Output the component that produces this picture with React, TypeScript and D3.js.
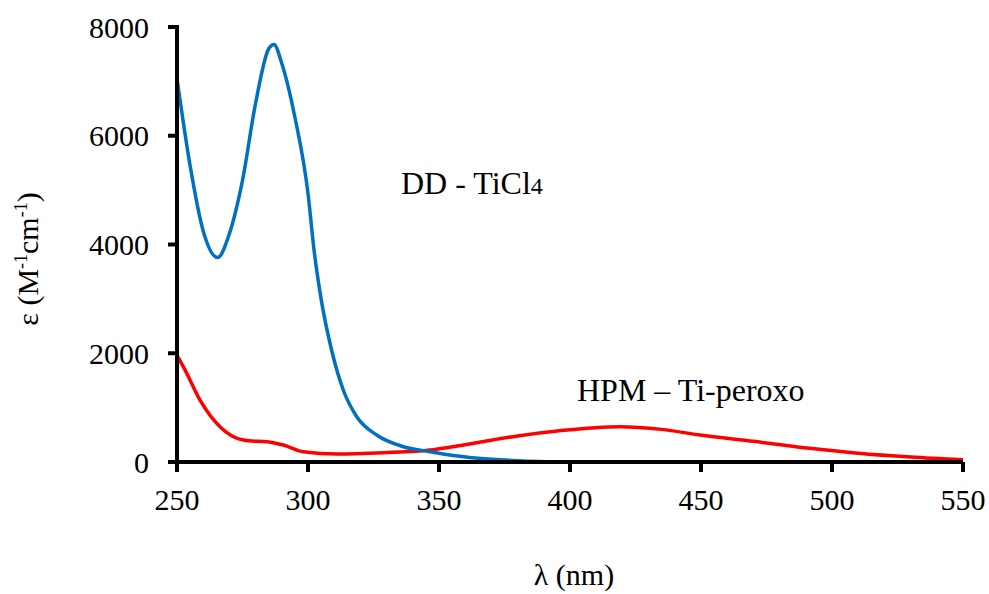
import React from "react";
import * as d3 from "d3";

const xTicks = [250, 300, 350, 400, 450, 500, 550];
const yTicks = [0, 2000, 4000, 6000, 8000];

const blueWl = [250, 255, 260, 265.5, 270, 275, 280, 285, 287, 290, 295, 300, 302.3, 305, 309, 313.5, 318.6, 326.2, 336.4, 346.6, 354, 365, 380, 400];
const blueEps = [7050, 5450, 4250, 3760, 4200, 5180, 6600, 7600, 7680, 7330, 6340, 4940, 3900, 3000, 2060, 1320, 833, 496, 281, 190, 129, 70, 25, 0];

const redWl = [250, 253, 258.8, 266.4, 275.3, 286.8, 290.6, 298.2, 311, 328.8, 346.6, 354, 365, 380, 396, 419, 435, 449.6, 470, 491.6, 510, 530, 550];
const redEps = [1960, 1700, 1140, 650, 404, 355, 312, 190, 147, 171, 220, 270, 360, 480, 575, 650, 600, 496, 380, 251, 160, 90, 40];

const FONT = '"Liberation Serif", "Times New Roman", "DejaVu Serif", serif';

export default function App() {
  const W = 989, H = 594;
  const x = d3.scaleLinear().domain([250, 550]).range([177, 963]);
  const y = d3.scaleLinear().domain([0, 8000]).range([462, 27]);
  const line = d3.line<[number, number]>().x(d => x(d[0])).y(d => y(d[1])).curve(d3.curveMonotoneX);
  const blue = line(blueWl.map((w, i) => [w, blueEps[i]] as [number, number])) || "";
  const red = line(redWl.map((w, i) => [w, redEps[i]] as [number, number])) || "";
  const ts = { fontFamily: FONT, fill: "#000" } as React.CSSProperties;
  return (
    <svg width={W} height={H} style={{ position: "absolute", left: 0, top: 0 }}>
      <rect width={W} height={H} fill="#fff" />
      <path d={red} fill="none" stroke="#FF0000" strokeWidth={3.5} strokeLinejoin="round" />
      <path d={blue} fill="none" stroke="#0070C0" strokeWidth={3.5} strokeLinejoin="round" />
      <line x1={x(250)} x2={x(250)} y1={y(8000) - 2} y2={y(0) + 2} stroke="#000" strokeWidth={4} />
      <line x1={x(250) - 2} x2={x(550)} y1={y(0)} y2={y(0)} stroke="#000" strokeWidth={4} />
      {yTicks.map(t => (
        <g key={"y" + t}>
          <line x1={x(250) - 9} x2={x(250)} y1={y(t)} y2={y(t)} stroke="#000" strokeWidth={4} />
          <text x={149} y={y(t)} dy="0.35em" textAnchor="end" style={{ ...ts, fontSize: 30 }}>{t}</text>
        </g>
      ))}
      {xTicks.map(t => (
        <g key={"x" + t}>
          <line x1={x(t)} x2={x(t)} y1={y(0)} y2={y(0) + 10} stroke="#000" strokeWidth={4} />
          <text x={x(t)} y={510} textAnchor="middle" style={{ ...ts, fontSize: 30 }}>{t}</text>
        </g>
      ))}
      <text x={574} y={585} textAnchor="middle" style={{ ...ts, fontSize: 30 }}>λ (nm)</text>
      <text transform="translate(38,259) rotate(-90)" textAnchor="middle" style={{ ...ts, fontSize: 30 }}>
        ε (M<tspan dy={-11} style={{ fontSize: 18 }}>-1</tspan><tspan dy={11}>cm</tspan><tspan dy={-11} style={{ fontSize: 18 }}>-1</tspan><tspan dy={11}>)</tspan>
      </text>
      <text x={401} y={194} style={{ ...ts, fontSize: 32 }}>DD - TiCl<tspan style={{ fontSize: 24 }}>4</tspan></text>
      <text x={577} y={401} style={{ ...ts, fontSize: 32 }}>HPM – Ti-peroxo</text>
    </svg>
  );
}
